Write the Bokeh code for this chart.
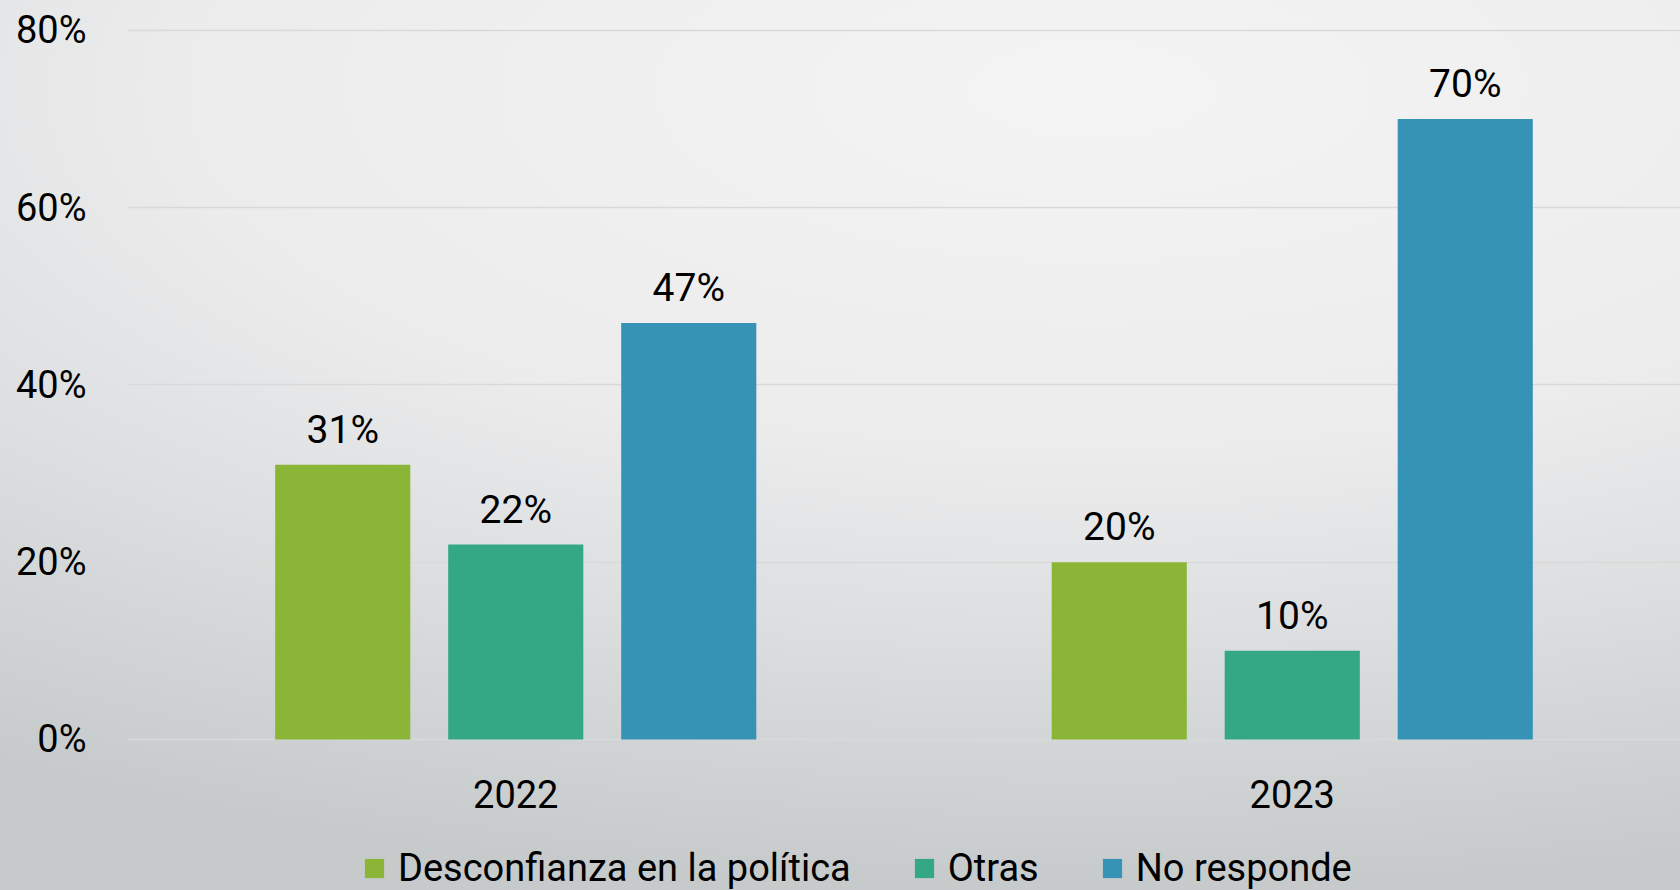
from bokeh.plotting import figure
from bokeh.models import (ColumnDataSource, FactorRange, FixedTicker, NumeralTickFormatter,
                          Legend, LegendItem, GlobalInlineStyleSheet, Range1d)
from bokeh.transform import dodge
from bokeh.core.properties import value
from bokeh.embed import file_html
from bokeh.resources import INLINE

years = ["2022", "2023"]
series_names = ["Desconfianza en la política", "Otras", "No responde"]
desconfianza = [0.31, 0.20]
otras = [0.22, 0.10]
no_responde = [0.47, 0.70]
y_ticks = [0.0, 0.2, 0.4, 0.6, 0.8]

colors = ["#8BB536", "#34A783", "#3793B5"]
FONT = "Roboto"

src = ColumnDataSource(dict(
    years=years,
    desconfianza=desconfianza,
    otras=otras,
    no_responde=no_responde,
    l_desc=[f"{v*100:.0f}%" for v in desconfianza],
    l_otras=[f"{v*100:.0f}%" for v in otras],
    l_nr=[f"{v*100:.0f}%" for v in no_responde],
))

# frame spans down to the bottom of the canvas; the area below 0% holds
# the category labels and the legend
p = figure(x_range=FactorRange(*years, range_padding=0), y_range=Range1d(-0.1704, 0.8045),
           width=1680, height=890, output_backend="svg", toolbar_location=None,
           min_border_left=127, min_border_right=0, min_border_top=26, min_border_bottom=0)

p.background_fill_color = None
p.border_fill_color = None
p.outline_line_color = None

step = 0.2228
bw = 0.174
cols = ["desconfianza", "otras", "no_responde"]
lcols = ["l_desc", "l_otras", "l_nr"]
renderers = []
for i, (c, lc, col) in enumerate(zip(cols, lcols, colors)):
    off = (i - 1) * step
    r = p.vbar(x=dodge("years", off, range=p.x_range), top=c, width=bw, source=src,
               fill_color=col, line_color=None)
    renderers.append(r)
    p.text(x=dodge("years", off, range=p.x_range), y=c, text=lc, source=src,
           text_align="center", text_baseline="alphabetic", y_offset=-35,
           text_font=value(FONT), text_font_size="39px", text_color="#000000")

# category labels under the 0% line
p.text(x="years", y=0, text="years", source=src, y_offset=55,
       text_align="center", text_baseline="middle",
       text_font=value(FONT), text_font_size="38px", text_color="#000000")

legend = Legend(items=[LegendItem(label=n, renderers=[r]) for n, r in zip(series_names, renderers)],
                orientation="horizontal", location=(235, 0),
                glyph_width=24, glyph_height=24, label_standoff=12, spacing=61,
                padding=0, margin=0, border_line_color=None, background_fill_alpha=0,
                label_text_font=FONT, label_text_font_size="38px", label_text_color="#000000")
p.add_layout(legend)

p.xaxis.visible = False
p.yaxis.ticker = FixedTicker(ticks=y_ticks)
p.yaxis.formatter = NumeralTickFormatter(format="0%")
ax = p.yaxis[0]
ax.axis_line_color = None
ax.major_tick_line_color = None
ax.minor_tick_line_color = None
ax.major_tick_out = 0
ax.major_tick_in = 0
ax.major_label_text_font = FONT
ax.major_label_text_font_size = "38px"
ax.major_label_text_color = "#000000"
ax.major_label_standoff = 41

p.xgrid.grid_line_color = None
p.ygrid.grid_line_color = "#d9d9d9"
p.ygrid.grid_line_width = 1.5
p.ygrid.ticker = FixedTicker(ticks=y_ticks)

p.stylesheets = [GlobalInlineStyleSheet(css="""
html { min-height: 100%; background: radial-gradient(ellipse 120% 90% at 65% 10%, #f4f4f5 0%, #ececed 45%, #d4d7d8 80%, #c6cacb 100%); }
body { background: transparent; }
""")]

open("out.html", "w").write(file_html(p, INLINE))
